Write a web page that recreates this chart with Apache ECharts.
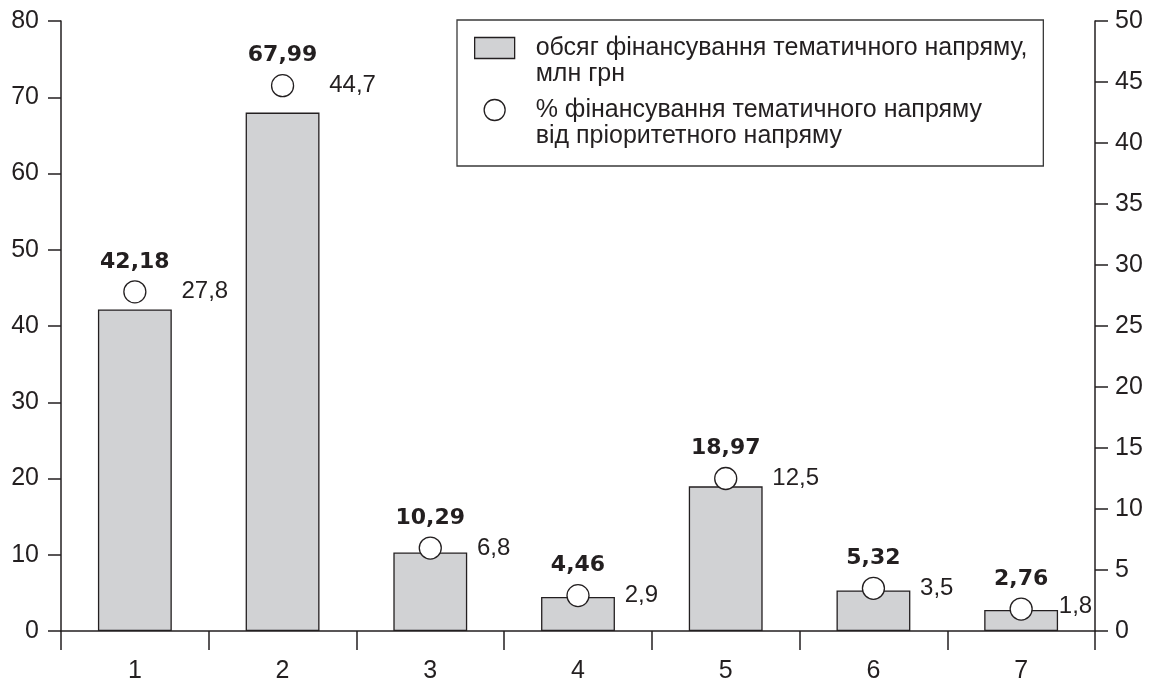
<!DOCTYPE html>
<html>
<head>
<meta charset="utf-8">
<script src="https://cdn.jsdelivr.net/npm/echarts@6/dist/echarts.min.js"></script>
<style>
  html, body { margin: 0; padding: 0; background: #fff; }
  #chart { width: 1153px; height: 681px; }
</style>
</head>
<body>
<div id="chart"></div>
<script>
// Thematic directions 1..7
const categories = ['1', '2', '3', '4', '5', '6', '7'];
// Funding volume of the thematic direction, mln UAH (left axis)
const fundingValues = [42.18, 67.99, 10.29, 4.46, 18.97, 5.32, 2.76];
// Share of the thematic direction in the priority direction, % (right axis)
const shareValues = [27.8, 44.7, 6.8, 2.9, 12.5, 3.5, 1.8];
// Axis tick settings
const leftAxisMax = 80, leftAxisStep = 10;
const rightAxisMax = 50, rightAxisStep = 5;

const barName = 'обсяг фінансування тематичного напряму,\nмлн грн';
const dotName = '% фінансування тематичного напряму\nвід пріоритетного напряму';

const ink = '#231f20';
const font = 'Liberation Sans, Arial, Helvetica, sans-serif';
const boldFont = 'DejaVu Sans, Liberation Sans, sans-serif';
const comma = (v, d) => v.toFixed(d).replace('.', ',');

const chart = echarts.init(document.getElementById('chart'), null, { renderer: 'canvas' });

const axisText = { color: ink, fontSize: 25, fontFamily: font };

chart.setOption({
  animation: false,
  backgroundColor: '#fff',
  grid: { left: 61, right: 58, top: 21, bottom: 50, containLabel: false, outerBoundsMode: 'none' },
  legend: {
    left: 457,
    top: 20,
    orient: 'vertical',
    selectedMode: false,
    itemWidth: 40,
    itemHeight: 21,
    itemGap: -16,
    padding: [-11, 16, 17, 17],
    borderColor: '#3a3a3a',
    borderWidth: 1.3,
    backgroundColor: '#fff',
    itemStyle: { borderWidth: 1.3, borderColor: ink },
    // an empty leading line keeps each icon level with the first text line
    formatter: name => '\n' + name,
    textStyle: {
      color: ink,
      fontSize: 25,
      fontFamily: font,
      lineHeight: 26,
      padding: [0, 0, 0, 16]
    },
    data: [
      { name: barName, icon: 'rect' },
      { name: dotName, icon: 'circle' }
    ]
  },
  xAxis: {
    type: 'category',
    data: categories,
    boundaryGap: true,
    axisLine: { show: true, lineStyle: { color: ink, width: 1.5 } },
    axisTick: { show: true, length: 19, lineStyle: { color: ink, width: 1.5 } },
    axisLabel: Object.assign({ margin: 28 }, axisText),
    splitLine: { show: false }
  },
  yAxis: [
    {
      type: 'value',
      position: 'left',
      min: 0,
      max: leftAxisMax,
      interval: leftAxisStep,
      axisLine: { show: true, lineStyle: { color: ink, width: 1.5 } },
      axisTick: { show: true, length: 13, lineStyle: { color: ink, width: 1.5 } },
      axisLabel: Object.assign({ margin: 22, padding: [4, 0, 0, 0] }, axisText),
      splitLine: { show: false }
    },
    {
      type: 'value',
      position: 'right',
      min: 0,
      max: rightAxisMax,
      interval: rightAxisStep,
      axisLine: { show: true, lineStyle: { color: ink, width: 1.5 } },
      axisTick: { show: true, length: 13, lineStyle: { color: ink, width: 1.5 } },
      axisLabel: Object.assign({ margin: 20, padding: [4, 0, 0, 0] }, axisText),
      splitLine: { show: false }
    }
  ],
  series: [
    {
      name: barName,
      type: 'bar',
      yAxisIndex: 0,
      data: fundingValues,
      barWidth: '50%',
      itemStyle: { color: '#d1d2d4', borderColor: ink, borderWidth: 1.3 },
      z: 2
    },
    {
      name: dotName,
      type: 'scatter',
      yAxisIndex: 1,
      data: shareValues.map((v, i) => {
        const item = { value: v };
        // the last label sits tighter so it stays clear of the right axis
        if (i === shareValues.length - 1) {
          item.label = { distance: 26, offset: [0, -3] };
        }
        return item;
      }),
      symbol: 'circle',
      symbolSize: 22,
      itemStyle: { color: '#ffffff', borderColor: ink, borderWidth: 1.3, opacity: 1 },
      label: {
        show: true,
        position: 'right',
        distance: 35,
        color: ink,
        fontSize: 24,
        fontFamily: font,
        formatter: p => comma(shareValues[p.dataIndex], 1)
      },
      z: 4
    },
    {
      // bold funding captions above each circle
      name: 'funding-captions',
      type: 'scatter',
      yAxisIndex: 1,
      data: shareValues,
      symbol: 'circle',
      symbolSize: 22,
      silent: true,
      itemStyle: { color: 'rgba(0,0,0,0)', borderWidth: 0, opacity: 1 },
      label: {
        show: true,
        position: 'top',
        distance: 8,
        color: ink,
        fontSize: 22,
        fontWeight: 'bold',
        fontFamily: boldFont,
        formatter: p => comma(fundingValues[p.dataIndex], 2)
      },
      z: 5
    }
  ]
});
</script>
</body>
</html>
